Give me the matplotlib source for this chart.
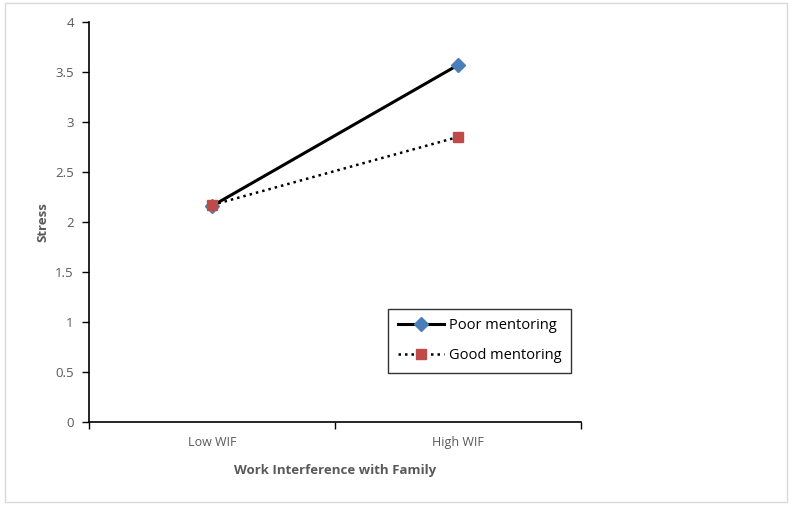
import matplotlib.pyplot as plt
from matplotlib.patches import Rectangle

categorias = ["Low WIF", "High WIF"]
poor_mentoring = [2.16, 3.57]
good_mentoring = [2.17, 2.85]
y_ticks = [0, 0.5, 1, 1.5, 2, 2.5, 3, 3.5, 4]
y_tick_labels = ["0", "0.5", "1", "1.5", "2", "2.5", "3", "3.5", "4"]

plt.rcParams['font.family'] = ['Open Sans', 'DejaVu Sans']
cinza = '#595959'

fig = plt.figure(figsize=(7.92, 5.05), dpi=100)
# moldura cinza em volta do grafico
fig.patches.append(Rectangle((0.006, 0.006), 0.988, 0.988, transform=fig.transFigure,
                             fill=False, edgecolor='#d9d9d9', linewidth=1))

ax = fig.add_axes([0.1124, 0.1644, 0.6212, 0.792])
x = list(range(len(categorias)))

ax.plot(x, poor_mentoring, color='black', linewidth=2.2, marker='D', markersize=7,
        markerfacecolor='#4a7ebb', markeredgecolor='#4a7ebb', label='Poor mentoring', zorder=3)
ax.plot(x, good_mentoring, color='black', linewidth=1.8, linestyle=(0, (1, 1.6)), marker='s',
        markersize=7.5, markerfacecolor='#be4b48', markeredgecolor='#be4b48',
        label='Good mentoring', zorder=4)

ax.set_xlim(-0.5, 1.5)
ax.set_ylim(0, 4)
ax.set_yticks(y_ticks)
ax.set_yticklabels(y_tick_labels, color=cinza, fontsize=9.5)

ax.set_xticks(x)
ax.set_xticklabels(categorias, color=cinza, fontsize=9)
ax.tick_params(axis='x', length=0, pad=10)
ax.set_xticks([-0.5, 0.5, 1.5], minor=True)
ax.tick_params(axis='x', which='minor', length=5, width=1, direction='out')
ax.tick_params(axis='y', length=5, width=1, direction='out', pad=6)

for lado in ['top', 'right']:
    ax.spines[lado].set_visible(False)
ax.spines['left'].set_linewidth(1.2)
ax.spines['bottom'].set_linewidth(1.2)

ax.set_ylabel("Stress", color=cinza, fontsize=9.5, fontweight='bold', labelpad=4)
ax.set_xlabel("Work Interference with Family", color=cinza, fontsize=9.5,
              fontweight='bold', labelpad=11)

leg = ax.legend(loc='upper left', bbox_to_anchor=(0.608, 0.2825), fancybox=False,
                edgecolor='black', fontsize=10.5, handlelength=3.2, labelspacing=1.0,
                borderpad=0.65, handletextpad=0.3, borderaxespad=0)
leg.get_frame().set_linewidth(1)

fig.savefig('out.png', dpi=100)
